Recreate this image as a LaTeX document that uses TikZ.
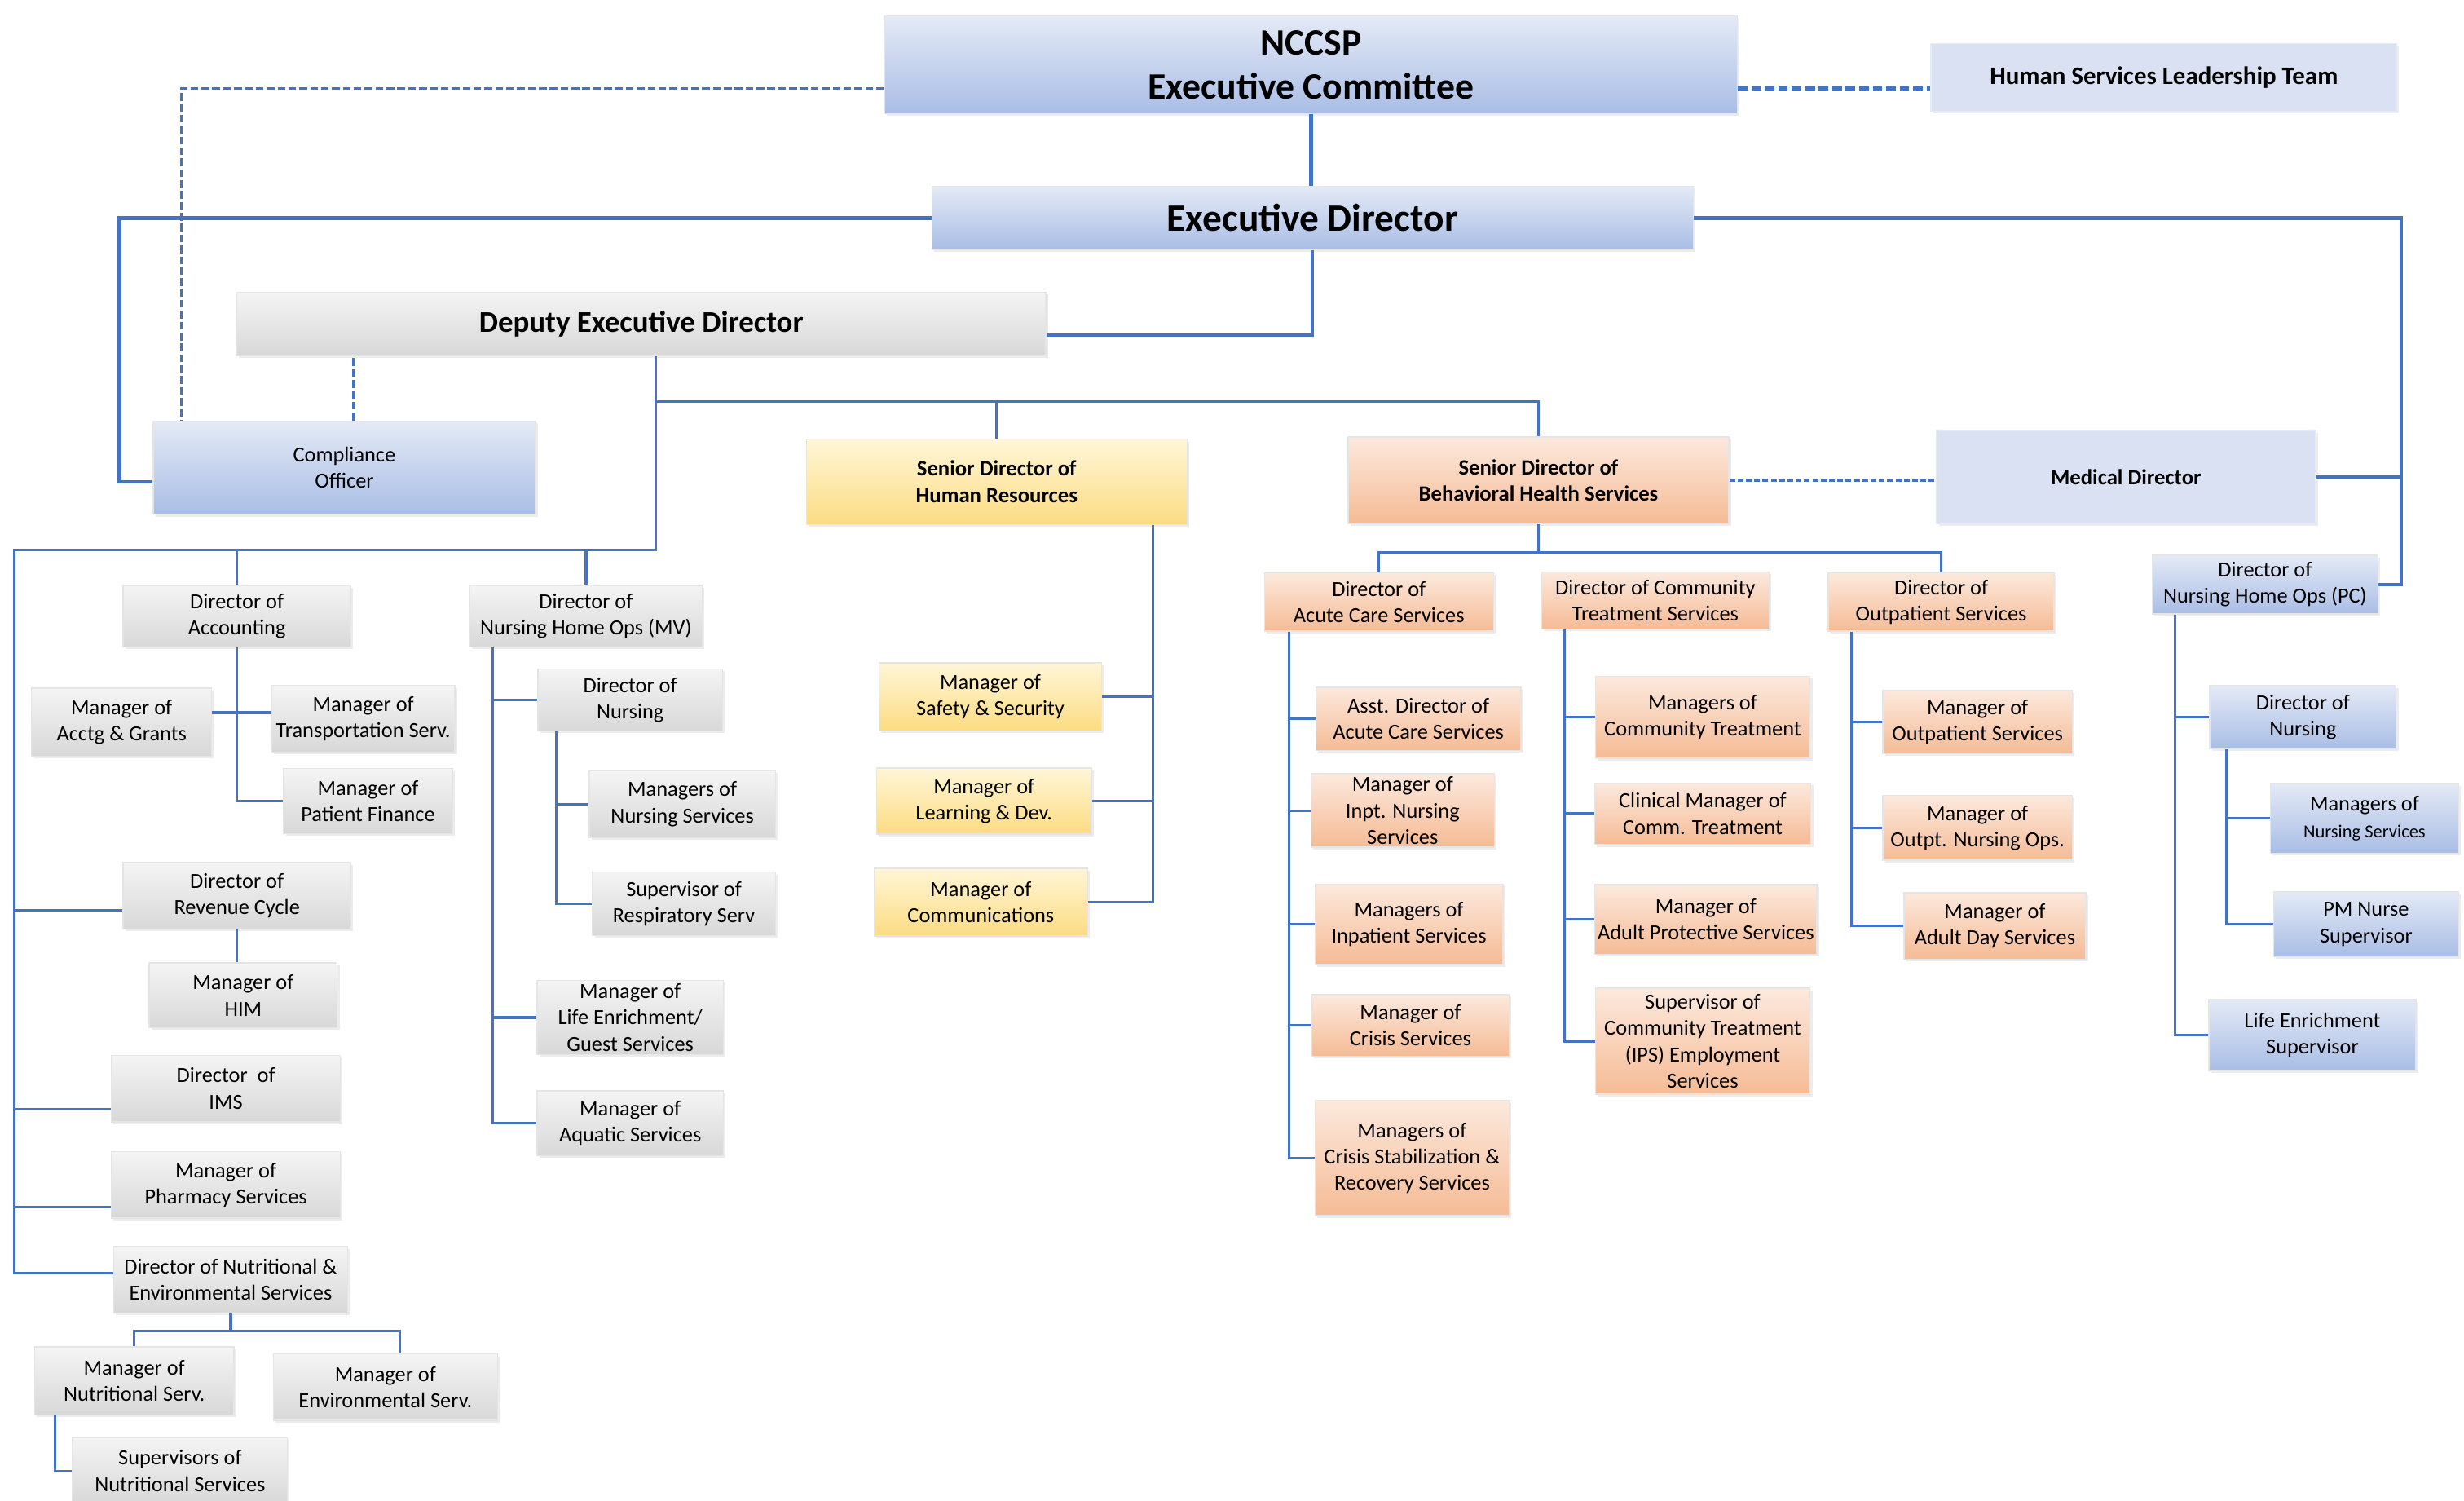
\documentclass[tikz,border=0pt]{standalone}
\usepackage{fontspec}
\setmainfont{Carlito}
\usetikzlibrary{calc,shadows}

\definecolor{linkblue}{HTML}{4472C4}
\definecolor{bluetop}{HTML}{E4EAF6}
\definecolor{bluebot}{HTML}{A9BDE5}
\definecolor{paleblue}{HTML}{D9E1F2}
\definecolor{orangetop}{HTML}{FCE9DD}
\definecolor{orangebot}{HTML}{F5BB95}
\definecolor{yellowtop}{HTML}{FFF6D8}
\definecolor{yellowbot}{HTML}{FCDC82}
\definecolor{greytop}{HTML}{F4F4F4}
\definecolor{greybot}{HTML}{D8D8D8}

\begin{document}
\begin{tikzpicture}[x=0.5514pt,y=-0.5514pt,
	box/.style={rectangle,inner sep=1pt,align=center,draw=black!10,line width=0.4pt,
		drop shadow={shadow xshift=0.8pt,shadow yshift=-0.8pt,opacity=0.15},
		font=\fontsize{7.5}{9.2}\selectfont},
	wh/.style 2 args={minimum width=#1*0.5514pt,minimum height=#2*0.5514pt},
	grey/.style={box,top color=greytop,bottom color=greybot},
	blue/.style={box,top color=bluetop,bottom color=bluebot},
	pale/.style={box,fill=paleblue,draw=bluetop},
	orange/.style={box,top color=orangetop,bottom color=orangebot},
	yellow/.style={box,top color=yellowtop,bottom color=yellowbot},
	head/.style={font=\bfseries\fontsize{7.6}{9.3}\selectfont},
	link/.style={draw=linkblue,line width=0.9pt},
	toplink/.style={draw=linkblue,line width=1.2pt},
	codash/.style={draw=linkblue,line width=0.9pt,dash pattern=on 2.7pt off 1.1pt},
	hsdash/.style={draw=linkblue,line width=1.4pt,dash pattern=on 3.3pt off 1.4pt},
	bhdash/.style={draw=linkblue,line width=1pt,dash pattern=on 2pt off 0.9pt}]

	\fill[white] (0,0) rectangle (1560,950);
	\useasboundingbox (0,0) rectangle (1560,950);

	% top of the chart
	\node[blue,wh={540}{62},font=\bfseries\fontsize{13}{15.4}\selectfont] (ncc) at (830,41) {NCCSP\\Executive Committee};
	\node[pale,wh={295}{43},font=\bfseries\fontsize{8.8}{10.5}\selectfont] (hslt) at (1370,49) {Human Services Leadership Team};
	\node[blue,wh={482}{40},font=\bfseries\fontsize{13.5}{16}\selectfont] (ed) at (831,138) {Executive Director};
	\node[grey,wh={512}{40},font=\bfseries\fontsize{10.5}{12.5}\selectfont] (dep) at (406,205) {Deputy Executive Director};
	\node[blue,wh={242}{59}] (comp) at (218,296) {Compliance\\Officer};
	\node[yellow,wh={241}{54},head] (shr) at (631,305) {Senior Director of\\Human Resources};
	\node[orange,wh={241}{55},head] (sbh) at (974,304) {Senior Director of\\Behavioral Health Services};
	\node[pale,wh={240}{59},head] (med) at (1346,302) {Medical Director};

	% deputy side
	\node[grey,wh={144}{39}] (dacc) at (150,390) {Director of\\Accounting};
	\node[grey,wh={114}{43}] (macg) at (77,457) {Manager of\\Acctg \& Grants};
	\node[grey,wh={116}{42}] (mtr) at (230,455) {Manager of\\Transportation Serv.};
	\node[grey,wh={107}{41}] (mpf) at (233,507) {Manager of\\Patient Finance};
	\node[grey,wh={144}{42}] (drev) at (150,567) {Director of\\Revenue Cycle};
	\node[grey,wh={119}{41}] (mhim) at (154,630) {Manager of\\HIM};
	\node[grey,wh={145}{42}] (dims) at (143,689) {Director~ of\\IMS};
	\node[grey,wh={145}{42}] (mph) at (143,750) {Manager of\\Pharmacy Services};
	\node[grey,wh={148}{42}] (dnut) at (146,810) {Director of Nutritional \&\\Environmental Services};
	\node[grey,wh={126}{43}] (mnut) at (85,874) {Manager of\\Nutritional Serv.};
	\node[grey,wh={142}{42}] (menv) at (244,878) {Manager of\\Environmental Serv.};
	\node[grey,wh={136}{42}] (sns) at (114,931) {Supervisors of\\Nutritional Services};

	\node[grey,wh={147}{39}] (dmv) at (371,390) {Director of\\Nursing Home Ops (MV)};
	\node[grey,wh={117}{39}] (mdn) at (399,443) {Director of\\Nursing};
	\node[grey,wh={118}{42}] (mns) at (432,509) {Managers of\\Nursing Services};
	\node[grey,wh={116}{40}] (msr) at (433,572) {Supervisor of\\Respiratory Serv};
	\node[grey,wh={118}{47}] (mle) at (399,644) {Manager of\\Life Enrichment/\\Guest Services};
	\node[grey,wh={118}{41}] (maq) at (399,711) {Manager of\\Aquatic Services};

	% human resources
	\node[yellow,wh={141}{43}] (mss) at (627,441) {Manager of\\Safety \& Security};
	\node[yellow,wh={136}{42}] (mld) at (623,507) {Manager of\\Learning \& Dev.};
	\node[yellow,wh={135}{43}] (mcom) at (621,571) {Manager of\\Communications};

	% behavioral health
	\node[orange,wh={145}{37}] (dacute) at (873,381) {Director of\\Acute Care Services};
	\node[orange,wh={144}{36}] (dct) at (1048,380) {Director of Community\\Treatment Services};
	\node[orange,wh={143}{37}] (dout) at (1229,381) {Director of\\Outpatient Services};

	\node[orange,wh={130}{40}] (asst) at (898,455) {Asst. Director of\\Acute Care Services};
	\node[orange,wh={116}{46}] (inpt) at (888,513) {Manager of\\Inpt. Nursing\\Services};
	\node[orange,wh={119}{51}] (minp) at (892,585) {Managers of\\Inpatient Services};
	\node[orange,wh={125}{39}] (mcr) at (893,649) {Manager of\\Crisis Services};
	\node[orange,wh={123}{73}] (mcs) at (894,733) {Managers of\\Crisis Stabilization \&\\Recovery Services};

	\node[orange,wh={136}{52}] (mct) at (1078,454) {Managers of\\Community Treatment};
	\node[orange,wh={137}{39}] (cmct) at (1078,515) {Clinical Manager of\\Comm. Treatment};
	\node[orange,wh={140}{44}] (maps) at (1080,582) {Manager of\\Adult Protective Services};
	\node[orange,wh={136}{67}] (sct) at (1078,659) {Supervisor of\\Community Treatment\\(IPS) Employment\\Services};

	\node[orange,wh={120}{40}] (mos) at (1252,457) {Manager of\\Outpatient Services};
	\node[orange,wh={120}{41}] (mon) at (1252,524) {Manager of\\Outpt. Nursing Ops.};
	\node[orange,wh={115}{42}] (mads) at (1263,586) {Manager of\\Adult Day Services};

	% nursing home (PC)
	\node[blue,wh={143}{37}] (pc) at (1434,370) {Director of\\Nursing Home Ops (PC)};
	\node[blue,wh={118}{40}] (pdn) at (1458,454) {Director of\\Nursing};
	\node[blue,wh={119}{44}] (pns) at (1497,518) {Managers of\\{\fontsize{6.4}{8}\selectfont Nursing Services}};
	\node[blue,wh={117}{41}] (pms) at (1498,585) {PM Nurse\\Supervisor};
	\node[blue,wh={131}{45}] (pls) at (1464,655) {Life Enrichment\\Supervisor};

	% connectors at the top
	\draw[toplink] (ncc.south) -- (ncc.south |- ed.north);
	\draw[hsdash] (ncc.east) ++(0,15) coordinate (t1) -- (t1 -| hslt.west);
	\draw[codash] (ncc.west) ++(0,15) coordinate (t2) -| ($(comp.north west)+(18,0)$);
	\draw[toplink] (ed.west) -- ++(-514,0) |- ($(comp.west)+(0,9)$);
	\draw[toplink] (ed.east) -- ++(448,0) coordinate (rbus) |- (pc.east);
	\draw[toplink] (med.east) -- (med.east -| rbus);
	\draw[toplink] (ed.south) |- ($(dep.east)+(0,7)$);
	\draw[codash] (comp.north) ++(6,0) coordinate (t3) -- (t3 |- dep.south);
	\draw[bhdash] (sbh.east) -- (sbh.east -| med.west);

	\coordinate (hub) at (415,254);
	\coordinate (lhub) at (415,348);
	\coordinate (lbus) at (9,348);
	\draw[link] (hub |- dep.south) -- (hub) -| (sbh.north);
	\draw[link] (hub -| shr.north) -- (shr.north);
	\draw[link] (hub) -- (lhub) -- (lbus) |- ($(dnut.west)+(0,-4)$);

	% connectors under the deputy
	\draw[link] (lbus -| dacc.north) -- (dacc.north);
	\draw[link] (lbus -| dmv.north) -- (dmv.north);
	\draw[link] (dacc.south) |- (mpf.west);
	\draw[link] (macg.east) ++(0,-6) coordinate (t5) -- (t5 -| mtr.west);
	\draw[link] (drev.west) ++(0,9) coordinate (t6) -- (t6 -| lbus);
	\draw[link] (drev.south) -- (drev.south |- mhim.north);
	\draw[link] (dims.west) ++(0,13) coordinate (t7) -- (t7 -| lbus);
	\draw[link] (mph.west) ++(0,14) coordinate (t8) -- (t8 -| lbus);
	\draw[link] (dnut.south) -- ++(0,11) coordinate (nhub) -| (mnut.north);
	\draw[link] (nhub) -| ($(menv.north)+(9,0)$);
	\draw[link] (mnut.south west) ++(13,0) |- (sns.west);

	\draw[link] (dmv.south west) ++(15,0) coordinate (mvbus) |- (maq.west);
	\draw[link] (mvbus |- mdn.west) -- (mdn.west);
	\draw[link] (mvbus |- mle.west) -- (mle.west);
	\draw[link] (mdn.south west) ++(12,0) coordinate (dnbus) |- (msr.west);
	\draw[link] (dnbus |- mns.west) -- (mns.west);

	% connectors for human resources
	\draw[link] (shr.south east) ++(-22,0) coordinate (hrbus) |- (mcom.east);
	\draw[link] (hrbus |- mss.east) -- (mss.east);
	\draw[link] (hrbus |- mld.east) -- (mld.east);

	% connectors for behavioral health
	\draw[link] (sbh.south) -- ++(0,18) coordinate (bhub) -| (dacute.north);
	\draw[link] (bhub) -| (dout.north);

	\draw[link] (dacute.south west) ++(16,0) coordinate (acbus) |- (mcs.west);
	\draw[link] (acbus |- asst.west) -- (asst.west);
	\draw[link] (acbus |- inpt.west) -- (inpt.west);
	\draw[link] (acbus |- minp.west) -- (minp.west);
	\draw[link] (acbus |- mcr.west) -- (mcr.west);

	\draw[link] (dct.south west) ++(15,0) coordinate (ctbus) |- (sct.west);
	\draw[link] (ctbus |- mct.west) -- (mct.west);
	\draw[link] (ctbus |- cmct.west) -- (cmct.west);
	\draw[link] (ctbus |- maps.west) -- (maps.west);

	\draw[link] (dout.south west) ++(15,0) coordinate (opbus) |- (mads.west);
	\draw[link] (opbus |- mos.west) -- (mos.west);
	\draw[link] (opbus |- mon.west) -- (mon.west);

	% connectors for nursing home (PC)
	\draw[link] (pc.south west) ++(15,0) coordinate (pcbus) |- (pls.west);
	\draw[link] (pcbus |- pdn.west) -- (pdn.west);
	\draw[link] (pdn.south west) ++(11,0) coordinate (pnbus) |- (pms.west);
	\draw[link] (pnbus |- pns.west) -- (pns.west);

\end{tikzpicture}
\end{document}
